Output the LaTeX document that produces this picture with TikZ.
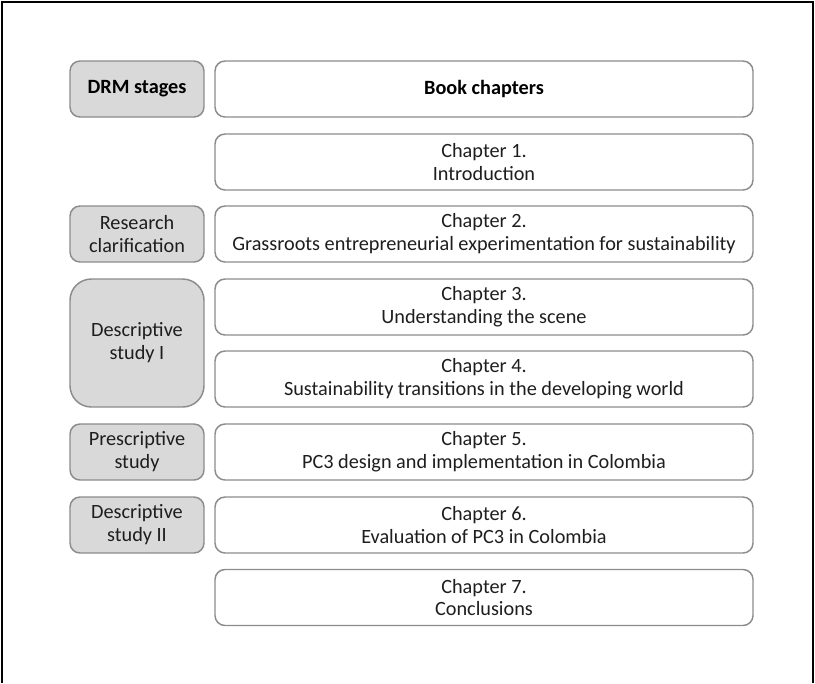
\documentclass[tikz,border=0pt]{standalone}
\usepackage{fontspec}
\setmainfont{Carlito}
\definecolor{stagefill}{HTML}{D9D9D9}
\definecolor{boxline}{HTML}{8C8C8C}
\definecolor{txt}{HTML}{1E1E1E}
\newcommand\boxfont{\fontsize{15.2}{17.2}\selectfont}
\begin{document}
\begin{tikzpicture}[x=0.75pt,y=-0.75pt,
  base/.style={draw=boxline, line width=1.1pt, align=center, text=txt,
    font=\boxfont, inner sep=0pt},
  stage/.style={base, fill=stagefill, rounded corners=7.5pt,
    minimum width=100.5pt, minimum height=42pt},
  chapter/.style={base, fill=white, rounded corners=7.5pt,
    minimum width=403.5pt, minimum height=42pt},
  heading/.style={font=\boxfont\bfseries, text=black}]
\useasboundingbox (0,0) rectangle (815,683);
% outer frame (open at the bottom)
\draw[black, line width=1.2pt] (2,683) -- (2,2) -- (813,2) -- (813,683);

% stage column
\node[stage, heading] (drm) at (137,89) {DRM stages};
\node[stage] (rc) at (137,234) {Research\\clarification};
\node[stage, minimum height=96pt, rounded corners=16pt] (ds1) at (137,343) {Descriptive\\study I};
\node[stage] (ps) at (137,452) {Prescriptive\\study};
\node[stage] (ds2) at (137,525) {Descriptive\\study II};

% chapter column
\node[chapter, heading] (bc) at (484,89) {Book chapters};
\node[chapter] (c1) at (484,162) {Chapter 1.\\Introduction};
\node[chapter] (c2) at (484,234) {Chapter 2.\\Grassroots entrepreneurial experimentation for sustainability};
\node[chapter] (c3) at (484,307) {Chapter 3.\\Understanding the scene};
\node[chapter] (c4) at (484,379) {Chapter 4.\\Sustainability transitions in the developing world};
\node[chapter] (c5) at (484,452) {Chapter 5.\\PC3 design and implementation in Colombia};
\node[chapter] (c6) at (484,525) {Chapter 6.\\Evaluation of PC3 in Colombia};
\node[chapter] (c7) at (484,597.5) {Chapter 7.\\Conclusions};
\end{tikzpicture}
\end{document}
